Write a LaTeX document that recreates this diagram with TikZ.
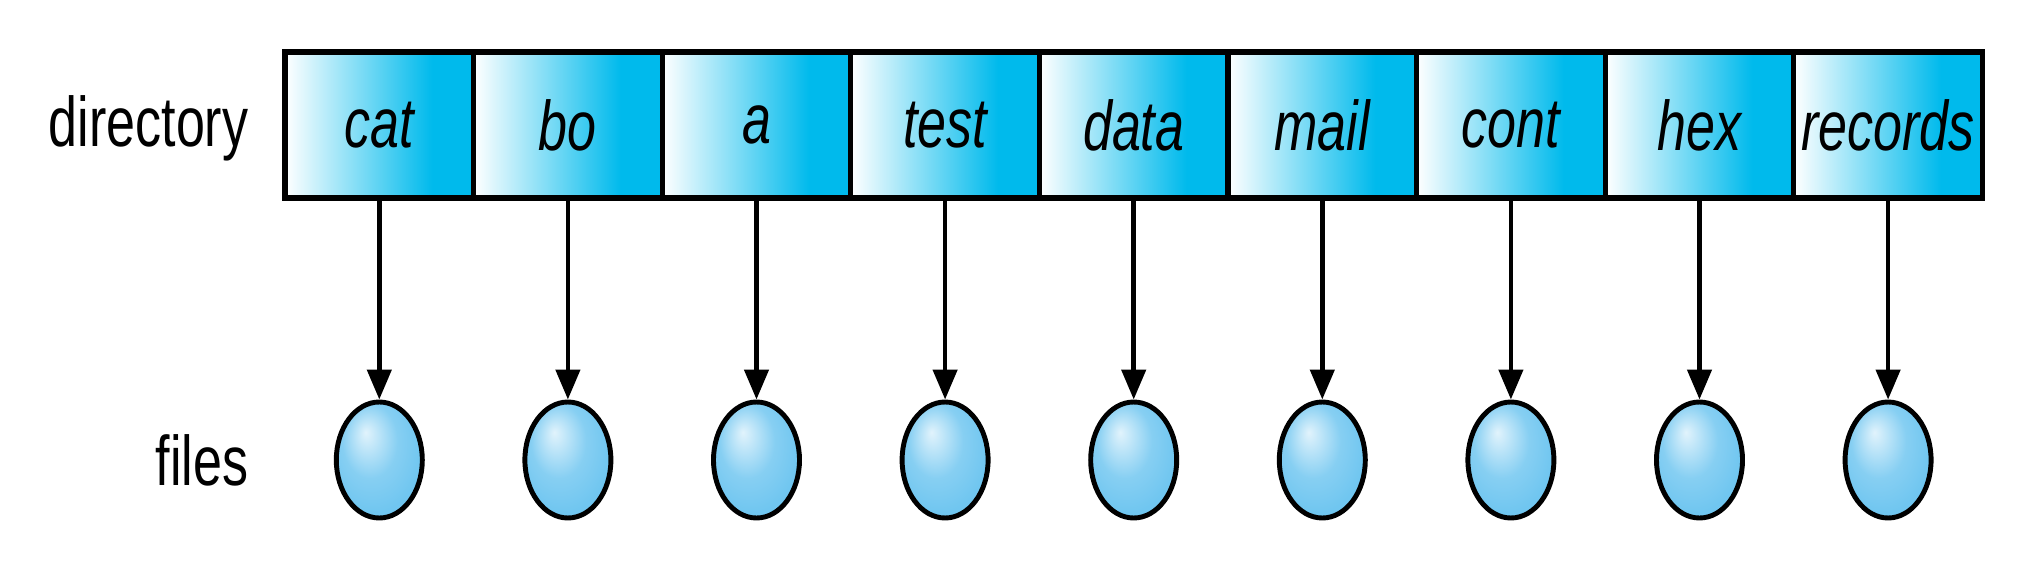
\documentclass[tikz,border=0pt]{standalone}
\usepackage{fontspec}
\setmainfont[FakeStretch=0.74]{Liberation Sans}
\usepackage{xcolor}
\usepackage{tikz}
\usetikzlibrary{shapes.geometric,arrows.meta}

\definecolor{dircyan}{RGB}{0,186,236}
\definecolor{filefill}{RGB}{112,198,240}
\definecolor{filelight}{RGB}{225,243,252}

\pgfdeclarehorizontalshading{cellshade}{100bp}{color(0bp)=(white); color(25bp)=(white); color(64bp)=(dircyan); color(100bp)=(dircyan)}
\pgfdeclareradialshading{fileshade}{\pgfpoint{-8bp}{12bp}}{color(0bp)=(filelight); color(16bp)=(filefill!80!filelight); color(28bp)=(filefill); color(50bp)=(filefill)}

\tikzset{
  dircell/.style={draw, line width=1.5pt, shading=cellshade, minimum width=1.886cm,
    minimum height=1.46cm, inner sep=0pt, font=\fontsize{20}{22}\selectfont\itshape},
  filenode/.style={ellipse, draw, line width=1.4pt, shading=fileshade, minimum width=0.86cm,
    minimum height=1.16cm, inner sep=0pt},
  rowlabel/.style={anchor=east, inner sep=0pt, font=\fontsize{20}{22}\selectfont},
  link/.style={line width=1.3pt, -{Triangle[length=0.3cm, width=0.24cm]}}
}

\begin{document}
\begin{tikzpicture}
  \useasboundingbox (0,0) rectangle (20.34,5.68);

  \node[rowlabel] (dirlabel) at (2.49,4.40) {directory};
  \node[rowlabel] (fileslabel) at (2.49,1.08) {files};

  \foreach \name [count=\i] in {cat,bo,a,test,data,mail,cont,hex,records} {
    \node[dircell] (d\i) at ({2.85+(\i-0.5)*1.886},4.43) {\name};
    \node[filenode] (f\i) at ({2.85+(\i-0.5)*1.886},1.08) {};
    \draw[link] (d\i.south) -- (f\i.north);
  }
\end{tikzpicture}
\end{document}
